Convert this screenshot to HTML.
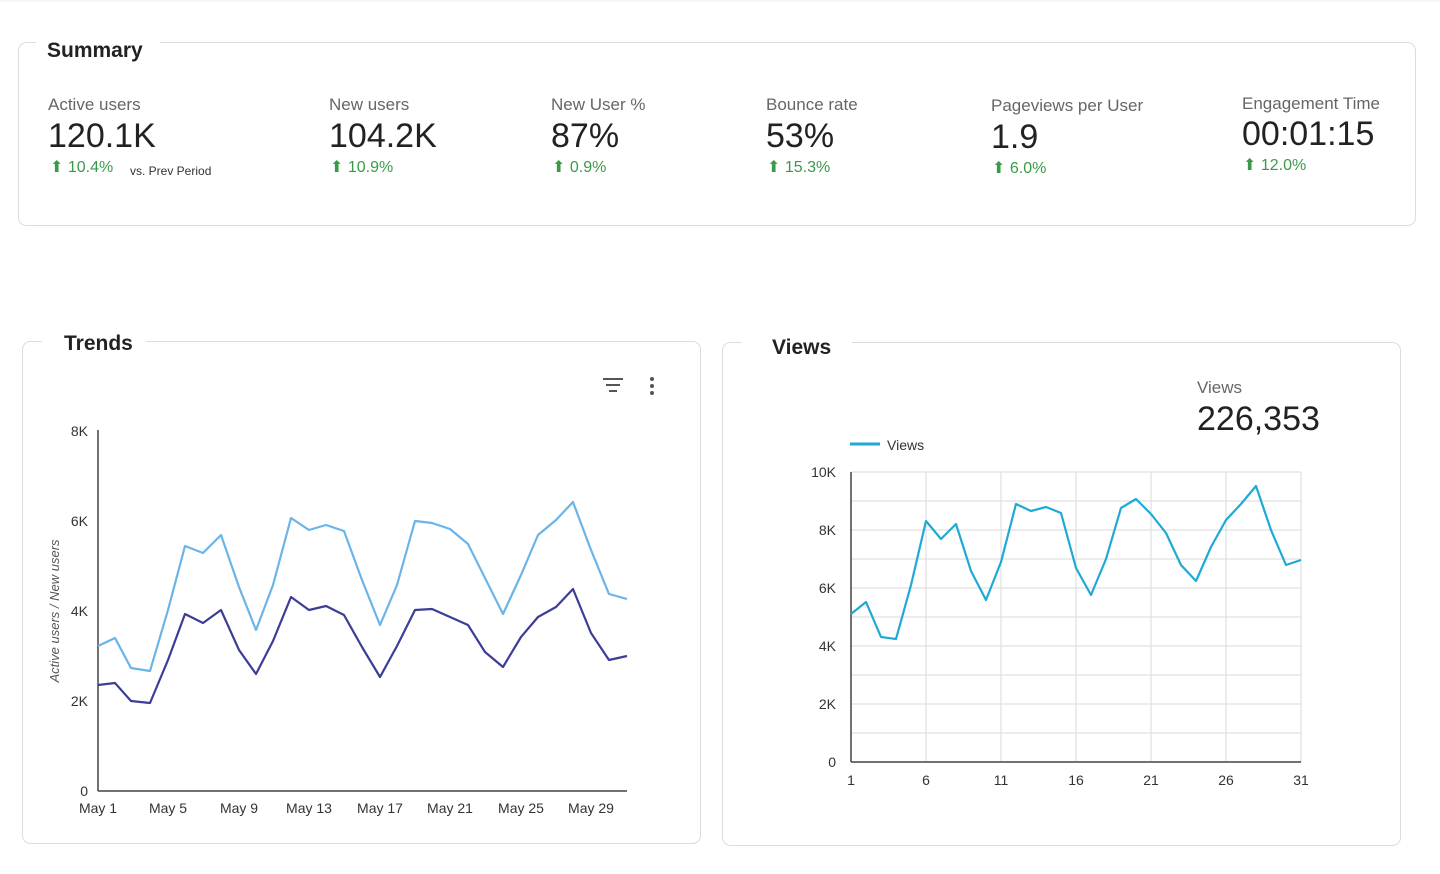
<!DOCTYPE html>
<html><head><meta charset="utf-8"><style>
html,body{margin:0;padding:0;background:#fff;}
svg{display:block;font-family:"Liberation Sans",sans-serif;}
</style></head><body>
<svg width="1440" height="874" viewBox="0 0 1440 874" xmlns="http://www.w3.org/2000/svg">
<rect width="1440" height="874" fill="#fff"/>
<line x1="0" y1="1" x2="1440" y2="1" stroke="#eee"/>
<!-- Summary card -->
<rect x="18.5" y="42.5" width="1397" height="183" rx="8" fill="#fff" stroke="#dcdcdc"/>
<rect x="36" y="36" width="124" height="14" fill="#fff"/>
<text x="47" y="57" font-size="21" font-weight="bold" fill="#222">Summary</text>
<g font-size="17" fill="#666">
<text x="48" y="110">Active users</text>
<text x="329" y="110">New users</text>
<text x="551" y="110">New User %</text>
<text x="766" y="110">Bounce rate</text>
<text x="991" y="111">Pageviews per User</text>
<text x="1242" y="109">Engagement Time</text>
</g>
<g font-size="34" fill="#222">
<text x="48" y="147">120.1K</text>
<text x="329" y="147">104.2K</text>
<text x="551" y="147">87%</text>
<text x="766" y="147">53%</text>
<text x="991" y="148">1.9</text>
<text x="1242" y="145">00:01:15</text>
</g>
<g font-size="16" fill="#3a9a4a">
<text x="50" y="172">⬆ 10.4%</text>
<text x="330" y="172">⬆ 10.9%</text>
<text x="552" y="172">⬆ 0.9%</text>
<text x="767" y="172">⬆ 15.3%</text>
<text x="992" y="173">⬆ 6.0%</text>
<text x="1243" y="170">⬆ 12.0%</text>
</g>
<text x="130" y="175" font-size="12" fill="#333">vs. Prev Period</text>

<!-- Trends card -->
<rect x="22.5" y="341.5" width="678" height="502" rx="8" fill="#fff" stroke="#dcdcdc"/>
<rect x="42" y="335" width="104" height="14" fill="#fff"/>
<text x="64" y="350" font-size="21" font-weight="bold" fill="#222">Trends</text>
<g stroke="#555" stroke-width="2"><line x1="603" y1="379" x2="623" y2="379"/><line x1="606" y1="385" x2="620" y2="385"/><line x1="609" y1="391" x2="617" y2="391"/></g>
<g fill="#555"><circle cx="652" cy="379" r="2"/><circle cx="652" cy="386" r="2"/><circle cx="652" cy="393" r="2"/></g>
<line x1="98" y1="430" x2="98" y2="791" stroke="#444" stroke-width="1.5"/>
<line x1="98" y1="791" x2="627" y2="791" stroke="#444" stroke-width="1.5"/>
<g font-size="14" fill="#333" text-anchor="end">
<text x="88" y="436">8K</text><text x="88" y="526">6K</text><text x="88" y="616">4K</text><text x="88" y="706">2K</text><text x="88" y="796">0</text>
</g>
<text transform="translate(59,611) rotate(-90)" font-size="13" font-style="italic" fill="#555" text-anchor="middle">Active users / New users</text>
<g font-size="14" fill="#333" text-anchor="middle">
<text x="98" y="813">May 1</text><text x="168" y="813">May 5</text><text x="239" y="813">May 9</text><text x="309" y="813">May 13</text><text x="380" y="813">May 17</text><text x="450" y="813">May 21</text><text x="521" y="813">May 25</text><text x="591" y="813">May 29</text>
</g>
<polyline fill="none" stroke="#6ab4e8" stroke-width="2.2" stroke-linejoin="round" points="98,646 115,638 131,668 150,671 168,610 185,546 203,553 221,535 239,587 256,630 273,585 291,518 309,530 326,525 344,531 362,580 380,625 397,585 415,521 432,523 450,529 468,544 485,578 503,614 521,575 538,535 556,520 573,502 591,550 609,594 627,599"/>
<polyline fill="none" stroke="#3b3d96" stroke-width="2.2" stroke-linejoin="round" points="98,685 115,683 131,701 150,703 168,660 185,614 203,623 221,610 239,650 256,674 273,641 291,597 309,610 326,606 344,615 362,647 380,677 397,646 415,610 432,609 450,617 468,625 485,652 503,667 521,637 538,617 556,607 573,589 591,633 609,660 627,656"/>

<!-- Views card -->
<rect x="722.5" y="342.5" width="678" height="503" rx="8" fill="#fff" stroke="#dcdcdc"/>
<rect x="742" y="336" width="110" height="14" fill="#fff"/>
<text x="772" y="354" font-size="21" font-weight="bold" fill="#222">Views</text>
<text x="1197" y="393" font-size="17" fill="#666">Views</text>
<text x="1197" y="430" font-size="34" fill="#222">226,353</text>
<line x1="850" y1="444" x2="880" y2="444" stroke="#1fa9d4" stroke-width="3"/>
<text x="887" y="450" font-size="14" fill="#333">Views</text>
<g stroke="#e0e0e0" stroke-width="1.2">
<line x1="851" y1="472" x2="1301" y2="472"/><line x1="851" y1="501" x2="1301" y2="501"/><line x1="851" y1="530" x2="1301" y2="530"/><line x1="851" y1="559" x2="1301" y2="559"/><line x1="851" y1="588" x2="1301" y2="588"/><line x1="851" y1="617" x2="1301" y2="617"/><line x1="851" y1="646" x2="1301" y2="646"/><line x1="851" y1="675" x2="1301" y2="675"/><line x1="851" y1="704" x2="1301" y2="704"/><line x1="851" y1="733" x2="1301" y2="733"/>
<line x1="926" y1="472" x2="926" y2="762"/><line x1="1001" y1="472" x2="1001" y2="762"/><line x1="1076" y1="472" x2="1076" y2="762"/><line x1="1151" y1="472" x2="1151" y2="762"/><line x1="1226" y1="472" x2="1226" y2="762"/><line x1="1301" y1="472" x2="1301" y2="762"/>
</g>
<line x1="851" y1="472" x2="851" y2="762" stroke="#444" stroke-width="1.5"/>
<line x1="851" y1="762" x2="1301" y2="762" stroke="#444" stroke-width="1.5"/>
<g font-size="14" fill="#333" text-anchor="end">
<text x="836" y="477">10K</text><text x="836" y="535">8K</text><text x="836" y="593">6K</text><text x="836" y="651">4K</text><text x="836" y="709">2K</text><text x="836" y="767">0</text>
</g>
<g font-size="14" fill="#333" text-anchor="middle">
<text x="851" y="785">1</text><text x="926" y="785">6</text><text x="1001" y="785">11</text><text x="1076" y="785">16</text><text x="1151" y="785">21</text><text x="1226" y="785">26</text><text x="1301" y="785">31</text>
</g>
<polyline fill="none" stroke="#1fa9d4" stroke-width="2.2" stroke-linejoin="round" points="851,614 866,602 881,637 896,639 911,585 926,521 941,539 956,524 971,571 986,600 1001,562 1016,504 1031,511 1046,507 1061,513 1076,568 1091,595 1106,559 1121,508 1136,499 1151,514 1166,533 1181,565 1196,581 1211,547 1226,520 1241,504 1256,486 1271,530 1286,565 1301,560"/>
</svg>
</body></html>
